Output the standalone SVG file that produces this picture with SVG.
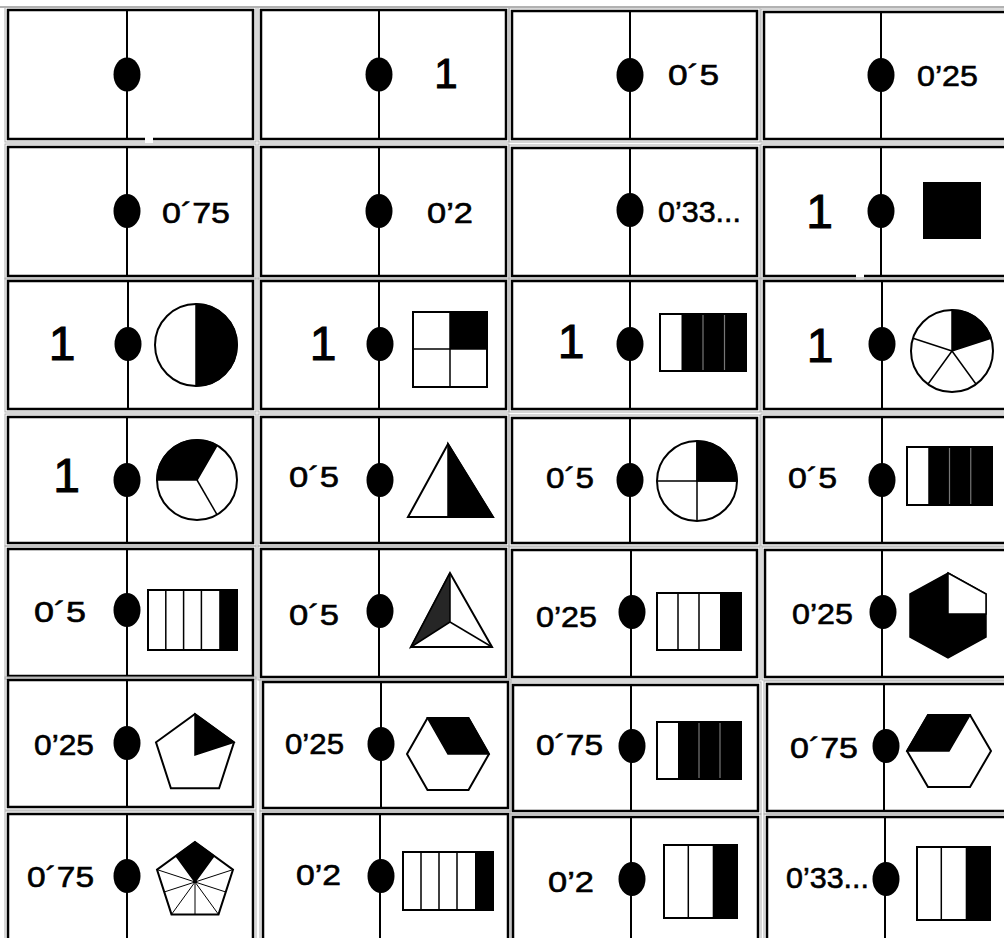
<svg xmlns="http://www.w3.org/2000/svg" width="1004" height="938" viewBox="0 0 1004 938">
<style>
.card{fill:#fff;stroke:#000;stroke-width:2.5}
.outer{fill:none;stroke:#b0b0b0;stroke-width:1}
.dv{stroke:#000;stroke-width:2}
.dot{fill:#000}
.t{font-family:"Liberation Sans",Arial,sans-serif;font-size:30px;fill:#000;stroke:#000;stroke-width:0.6}
.big{font-size:48px;text-anchor:middle;stroke-width:1}
.sh{fill:#fff;stroke:#000;stroke-width:2}
.nf{fill:none;stroke:#000;stroke-width:2}
.blk{fill:#000;stroke:#000;stroke-width:1.5}
.ln{stroke:#000;stroke-width:1.5;fill:none}
.thin{stroke:#000;stroke-width:1;fill:none}
.sep{stroke:#777;stroke-width:1.2}
</style>
<rect x="0" y="0" width="1004" height="938" fill="#fff"/>
<line x1="0" y1="7" x2="1004" y2="7" stroke="#999" stroke-width="1.5"/>

<!-- Row 1 -->
<g id="card-1-1">
<rect class="outer" x="5" y="7" width="251" height="135"/>
<rect class="card" x="8" y="10" width="245" height="129"/>
<rect x="145" y="136" width="8" height="7" fill="#fff"/>
<line class="dv" x1="127" y1="10" x2="127" y2="139"/>
<ellipse class="dot" cx="127" cy="74.5" rx="13.5" ry="17"/>
</g>
<g id="card-1-2">
<rect class="outer" x="258" y="7" width="251" height="135"/>
<rect class="card" x="261" y="10" width="245" height="129"/>
<line class="dv" x1="379" y1="10" x2="379" y2="139"/>
<ellipse class="dot" cx="379" cy="74.5" rx="13.5" ry="17"/>
<text class="t big" x="446" y="88" style="font-size:42px">1</text>
</g>
<g id="card-1-3">
<rect class="outer" x="509" y="8" width="251" height="134"/>
<rect class="card" x="512" y="11" width="245" height="128"/>
<line class="dv" x1="630" y1="11" x2="630" y2="139"/>
<ellipse class="dot" cx="630" cy="75" rx="13.5" ry="17"/>
<text class="t" x="668" y="85" textLength="51" lengthAdjust="spacingAndGlyphs">0´5</text>
</g>
<g id="card-1-4">
<rect class="outer" x="761" y="9" width="252" height="133"/>
<rect class="card" x="764" y="12" width="246" height="127"/>
<line class="dv" x1="881" y1="12" x2="881" y2="139"/>
<ellipse class="dot" cx="881" cy="75" rx="13.5" ry="17"/>
<text class="t" x="917" y="86" textLength="61" lengthAdjust="spacingAndGlyphs">0’25</text>
</g>

<!-- Row 2 -->
<g id="card-2-1">
<rect class="outer" x="5" y="144" width="251" height="135"/>
<rect class="card" x="8" y="147" width="245" height="129"/>
<line class="dv" x1="127" y1="147" x2="127" y2="276"/>
<ellipse class="dot" cx="127" cy="211" rx="13.5" ry="17"/>
<text class="t" x="162" y="223" textLength="68" lengthAdjust="spacingAndGlyphs">0´75</text>
</g>
<g id="card-2-2">
<rect class="outer" x="258" y="144" width="251" height="135"/>
<rect class="card" x="261" y="147" width="245" height="129"/>
<line class="dv" x1="379" y1="147" x2="379" y2="276"/>
<ellipse class="dot" cx="379" cy="211" rx="13.5" ry="17"/>
<text class="t" x="427" y="223" textLength="46" lengthAdjust="spacingAndGlyphs">0’2</text>
</g>
<g id="card-2-3">
<rect class="outer" x="509" y="145" width="251" height="134"/>
<rect class="card" x="512" y="148" width="245" height="128"/>
<line class="dv" x1="630" y1="148" x2="630" y2="276"/>
<ellipse class="dot" cx="630" cy="210" rx="13.5" ry="17"/>
<text class="t" x="658" y="222" textLength="83" lengthAdjust="spacingAndGlyphs">0’33...</text>
</g>
<g id="card-2-4">
<rect class="outer" x="761" y="144" width="252" height="135"/>
<rect class="card" x="764" y="147" width="246" height="129"/>
<rect x="856" y="273" width="8" height="7" fill="#fff"/>
<line class="dv" x1="881" y1="147" x2="881" y2="276"/>
<ellipse class="dot" cx="881" cy="211" rx="13.5" ry="17"/>
<text class="t big" x="819.5" y="228">1</text>
<rect x="923" y="182" width="58" height="57" fill="#000"/>
</g>

<!-- Row 3 -->
<g id="card-3-1">
<rect class="outer" x="5" y="278" width="251" height="134"/>
<rect class="card" x="8" y="281" width="245" height="128"/>
<line class="dv" x1="128" y1="281" x2="128" y2="409"/>
<ellipse class="dot" cx="128" cy="344" rx="13.5" ry="17"/>
<text class="t big" x="62" y="360">1</text>
<circle class="sh" cx="196" cy="345" r="41"/>
<path class="blk" d="M196,304 A41,41 0 0 1 196,386 Z"/>
</g>
<g id="card-3-2">
<rect class="outer" x="258" y="278" width="251" height="134"/>
<rect class="card" x="261" y="281" width="245" height="128"/>
<line class="dv" x1="379" y1="281" x2="379" y2="409"/>
<ellipse class="dot" cx="380" cy="344" rx="13.5" ry="17"/>
<text class="t big" x="323" y="360">1</text>
<rect class="sh" x="413" y="312" width="74" height="75"/>
<rect x="450" y="312" width="37" height="37" fill="#000"/>
<line class="ln" x1="450" y1="312" x2="450" y2="387"/>
<line class="ln" x1="413" y1="349" x2="487" y2="349"/>
<rect class="nf" x="413" y="312" width="74" height="75"/>
</g>
<g id="card-3-3">
<rect class="outer" x="509" y="278" width="251" height="134"/>
<rect class="card" x="512" y="281" width="245" height="128"/>
<line class="dv" x1="630" y1="281" x2="630" y2="409"/>
<ellipse class="dot" cx="630" cy="344" rx="13.5" ry="17"/>
<text class="t big" x="571" y="358">1</text>
<rect class="sh" x="660" y="314" width="86" height="57"/>
<rect x="681.5" y="314" width="64.5" height="57" fill="#000"/>
<line class="sep" x1="703" y1="315" x2="703" y2="370"/>
<line class="sep" x1="724.5" y1="315" x2="724.5" y2="370"/>
<rect class="nf" x="660" y="314" width="86" height="57"/>
</g>
<g id="card-3-4">
<rect class="outer" x="761" y="278" width="252" height="134"/>
<rect class="card" x="764" y="281" width="246" height="128"/>
<line class="dv" x1="882" y1="281" x2="882" y2="409"/>
<ellipse class="dot" cx="882" cy="344" rx="13.5" ry="17"/>
<text class="t big" x="820" y="362">1</text>
<circle class="sh" cx="952" cy="351" r="41"/>
<path class="blk" d="M952,351 L952,310 A41,41 0 0 1 991,338.3 Z"/>
<path class="ln" d="M952,351 L976.1,384.2 M952,351 L927.9,384.2 M952,351 L913,338.3"/>
</g>

<!-- Row 4 -->
<g id="card-4-1">
<rect class="outer" x="5" y="414" width="251" height="132"/>
<rect class="card" x="8" y="417" width="245" height="126"/>
<line class="dv" x1="127" y1="417" x2="127" y2="543"/>
<ellipse class="dot" cx="127" cy="480" rx="13.5" ry="17"/>
<text class="t big" x="66.5" y="492">1</text>
<circle class="sh" cx="197" cy="480" r="40"/>
<path class="blk" d="M197,480 L217,445.4 A40,40 0 0 0 157,480 Z"/>
<path class="ln" d="M197,480 L217,514.6"/>
</g>
<g id="card-4-2">
<rect class="outer" x="258" y="414" width="251" height="132"/>
<rect class="card" x="261" y="417" width="245" height="126"/>
<line class="dv" x1="379" y1="417" x2="379" y2="543"/>
<ellipse class="dot" cx="380" cy="480" rx="13.5" ry="17"/>
<text class="t" x="289" y="487" textLength="50" lengthAdjust="spacingAndGlyphs">0´5</text>
<polygon class="sh" points="448,444 408,517 493,517"/>
<polygon class="blk" points="448,444 493,517 448,517"/>
</g>
<g id="card-4-3">
<rect class="outer" x="509" y="415" width="251" height="131"/>
<rect class="card" x="512" y="418" width="245" height="125"/>
<line class="dv" x1="630" y1="418" x2="630" y2="543"/>
<ellipse class="dot" cx="630" cy="480" rx="13.5" ry="17"/>
<text class="t" x="546" y="488" textLength="48" lengthAdjust="spacingAndGlyphs">0´5</text>
<circle class="sh" cx="697" cy="481" r="40"/>
<path class="blk" d="M697,481 L697,441 A40,40 0 0 1 737,481 Z"/>
<path class="ln" d="M657,481 L737,481 M697,441 L697,521"/>
</g>
<g id="card-4-4">
<rect class="outer" x="761" y="414" width="252" height="132"/>
<rect class="card" x="764" y="417" width="246" height="126"/>
<line class="dv" x1="882" y1="417" x2="882" y2="543"/>
<ellipse class="dot" cx="882" cy="480" rx="13.5" ry="17"/>
<text class="t" x="788" y="488" textLength="49" lengthAdjust="spacingAndGlyphs">0´5</text>
<rect class="sh" x="907" y="447" width="85" height="58"/>
<rect x="928.25" y="447" width="63.75" height="58" fill="#000"/>
<line class="sep" x1="949.5" y1="448" x2="949.5" y2="504"/>
<line class="sep" x1="970.75" y1="448" x2="970.75" y2="504"/>
<rect class="nf" x="907" y="447" width="85" height="58"/>
</g>

<!-- Row 5 -->
<g id="card-5-1">
<rect class="outer" x="5" y="546" width="251" height="133"/>
<rect class="card" x="8" y="549" width="245" height="127"/>
<line class="dv" x1="127" y1="549" x2="127" y2="676"/>
<ellipse class="dot" cx="127" cy="610" rx="13.5" ry="17"/>
<text class="t" x="34" y="622" textLength="52" lengthAdjust="spacingAndGlyphs">0´5</text>
<rect class="sh" x="148" y="590" width="89" height="60"/>
<rect x="219.2" y="590" width="17.8" height="60" fill="#000"/>
<path class="ln" d="M165.8,590 V650 M183.6,590 V650 M201.4,590 V650"/>
<rect class="nf" x="148" y="590" width="89" height="60"/>
</g>
<g id="card-5-2">
<rect class="outer" x="258" y="546" width="251" height="134"/>
<rect class="card" x="261" y="549" width="245" height="128"/>
<line class="dv" x1="379" y1="549" x2="379" y2="677"/>
<ellipse class="dot" cx="380" cy="611" rx="13.5" ry="17"/>
<text class="t" x="289" y="625" textLength="50" lengthAdjust="spacingAndGlyphs">0´5</text>
<polygon class="sh" points="450,573 411,647 492,647"/>
<polygon points="450,573 411,647 450,622" fill="#262626" stroke="#000" stroke-width="1.5"/>
<path class="ln" d="M450,622 L492,647"/>
</g>
<g id="card-5-3">
<rect class="outer" x="509" y="547" width="251" height="133"/>
<rect class="card" x="512" y="550" width="245" height="127"/>
<line class="dv" x1="631" y1="550" x2="631" y2="677"/>
<ellipse class="dot" cx="632" cy="612" rx="13.5" ry="17"/>
<text class="t" x="536" y="627" textLength="61" lengthAdjust="spacingAndGlyphs">0’25</text>
<rect class="sh" x="657" y="593" width="84" height="57"/>
<rect x="720" y="593" width="21" height="57" fill="#000"/>
<path class="ln" d="M678,593 V650 M699,593 V650"/>
<rect class="nf" x="657" y="593" width="84" height="57"/>
</g>
<g id="card-5-4">
<rect class="outer" x="762" y="547" width="251" height="133"/>
<rect class="card" x="765" y="550" width="245" height="127"/>
<line class="dv" x1="882" y1="550" x2="882" y2="677"/>
<ellipse class="dot" cx="883" cy="612" rx="13.5" ry="17"/>
<text class="t" x="792" y="624" textLength="61" lengthAdjust="spacingAndGlyphs">0’25</text>
<polygon points="948,573 986,594 986,637 948,658 910,637 910,594" fill="#000" stroke="#000" stroke-width="1.5"/>
<polygon points="948,573 986,594 986,614 948,614" fill="#fff" stroke="#000" stroke-width="1.5"/>
</g>

<!-- Row 6 -->
<g id="card-6-1">
<rect class="outer" x="5" y="677" width="251" height="133"/>
<rect class="card" x="8" y="680" width="245" height="127"/>
<line class="dv" x1="127" y1="680" x2="127" y2="807"/>
<ellipse class="dot" cx="127" cy="743" rx="13.5" ry="17"/>
<text class="t" x="34" y="755" textLength="60" lengthAdjust="spacingAndGlyphs">0’25</text>
<polygon class="sh" points="195,714 234,742.3 219.1,788.2 170.9,788.2 156,742.3"/>
<polygon class="blk" points="195,714 234,742.3 195,755"/>
</g>
<g id="card-6-2">
<rect class="outer" x="260" y="679" width="251" height="132"/>
<rect class="card" x="263" y="682" width="245" height="126"/>
<line class="dv" x1="381" y1="682" x2="381" y2="808"/>
<ellipse class="dot" cx="381" cy="744" rx="13.5" ry="17"/>
<text class="t" x="285" y="754" textLength="59" lengthAdjust="spacingAndGlyphs">0’25</text>
<polygon class="sh" points="407,754 427.5,718 468.5,718 489,754 468.5,790 427.5,790"/>
<polygon class="blk" points="427.5,718 468.5,718 489,754 448,754"/>
</g>
<g id="card-6-3">
<rect class="outer" x="510" y="682" width="251" height="132"/>
<rect class="card" x="513" y="685" width="245" height="126"/>
<line class="dv" x1="631" y1="685" x2="631" y2="811"/>
<ellipse class="dot" cx="632" cy="746" rx="13.5" ry="17"/>
<text class="t" x="536" y="755" textLength="67" lengthAdjust="spacingAndGlyphs">0´75</text>
<rect class="sh" x="657" y="722" width="84" height="57"/>
<rect x="678" y="722" width="63" height="57" fill="#000"/>
<line class="sep" x1="699" y1="723" x2="699" y2="778"/>
<line class="sep" x1="720" y1="723" x2="720" y2="778"/>
<rect class="nf" x="657" y="722" width="84" height="57"/>
</g>
<g id="card-6-4">
<rect class="outer" x="764" y="681" width="252" height="133"/>
<rect class="card" x="767" y="684" width="246" height="127"/>
<line class="dv" x1="884" y1="684" x2="884" y2="811"/>
<ellipse class="dot" cx="886" cy="746" rx="13.5" ry="17"/>
<text class="t" x="790" y="758" textLength="68" lengthAdjust="spacingAndGlyphs">0´75</text>
<polygon class="sh" points="907,751 928,715 970,715 991,751 970,787 928,787"/>
<polygon class="blk" points="907,751 928,715 970,715 949,751"/>
</g>

<!-- Row 7 -->
<g id="card-7-1">
<rect class="outer" x="5" y="811" width="251" height="150"/>
<rect class="card" x="8" y="814" width="245" height="140"/>
<line class="dv" x1="127" y1="814" x2="127" y2="954"/>
<ellipse class="dot" cx="127" cy="876" rx="13.5" ry="17"/>
<text class="t" x="27" y="887" textLength="67" lengthAdjust="spacingAndGlyphs">0´75</text>
<polygon class="sh" points="195,842 233,869.6 218.5,914.4 171.5,914.4 157,869.6"/>
<polygon class="blk" points="195,842 214,855.8 195,882 176,855.8"/>
<path class="thin" d="M195,882 L233,869.6 M195,882 L218.5,914.4 M195,882 L171.5,914.4 M195,882 L157,869.6 M195,882 L225.8,892 M195,882 L195,914.4 M195,882 L164.2,892"/>
</g>
<g id="card-7-2">
<rect class="outer" x="260" y="811" width="251" height="150"/>
<rect class="card" x="263" y="814" width="245" height="140"/>
<line class="dv" x1="380" y1="814" x2="380" y2="954"/>
<ellipse class="dot" cx="381" cy="876" rx="13.5" ry="17"/>
<text class="t" x="296" y="885" textLength="45" lengthAdjust="spacingAndGlyphs">0’2</text>
<rect class="sh" x="403" y="852" width="90" height="58"/>
<rect x="475" y="852" width="18" height="58" fill="#000"/>
<path class="ln" d="M421,852 V910 M439,852 V910 M457,852 V910"/>
<rect class="nf" x="403" y="852" width="90" height="58"/>
</g>
<g id="card-7-3">
<rect class="outer" x="510" y="814" width="251" height="150"/>
<rect class="card" x="513" y="817" width="245" height="140"/>
<line class="dv" x1="631" y1="817" x2="631" y2="957"/>
<ellipse class="dot" cx="632" cy="879" rx="13.5" ry="17"/>
<text class="t" x="548" y="892" textLength="46" lengthAdjust="spacingAndGlyphs">0’2</text>
<rect class="sh" x="664" y="845" width="73" height="73"/>
<rect x="712.7" y="845" width="24.3" height="73" fill="#000"/>
<path class="ln" d="M688.3,845 V918"/>
<rect class="nf" x="664" y="845" width="73" height="73"/>
</g>
<g id="card-7-4">
<rect class="outer" x="764" y="814" width="252" height="150"/>
<rect class="card" x="767" y="817" width="246" height="140"/>
<line class="dv" x1="885" y1="817" x2="885" y2="957"/>
<ellipse class="dot" cx="886" cy="879" rx="13.5" ry="17"/>
<text class="t" x="786" y="888" textLength="83" lengthAdjust="spacingAndGlyphs">0’33...</text>
<rect class="sh" x="917" y="847" width="73" height="73"/>
<rect x="965.7" y="847" width="24.3" height="73" fill="#000"/>
<path class="ln" d="M941.3,847 V920"/>
<rect class="nf" x="917" y="847" width="73" height="73"/>
</g>
</svg>
